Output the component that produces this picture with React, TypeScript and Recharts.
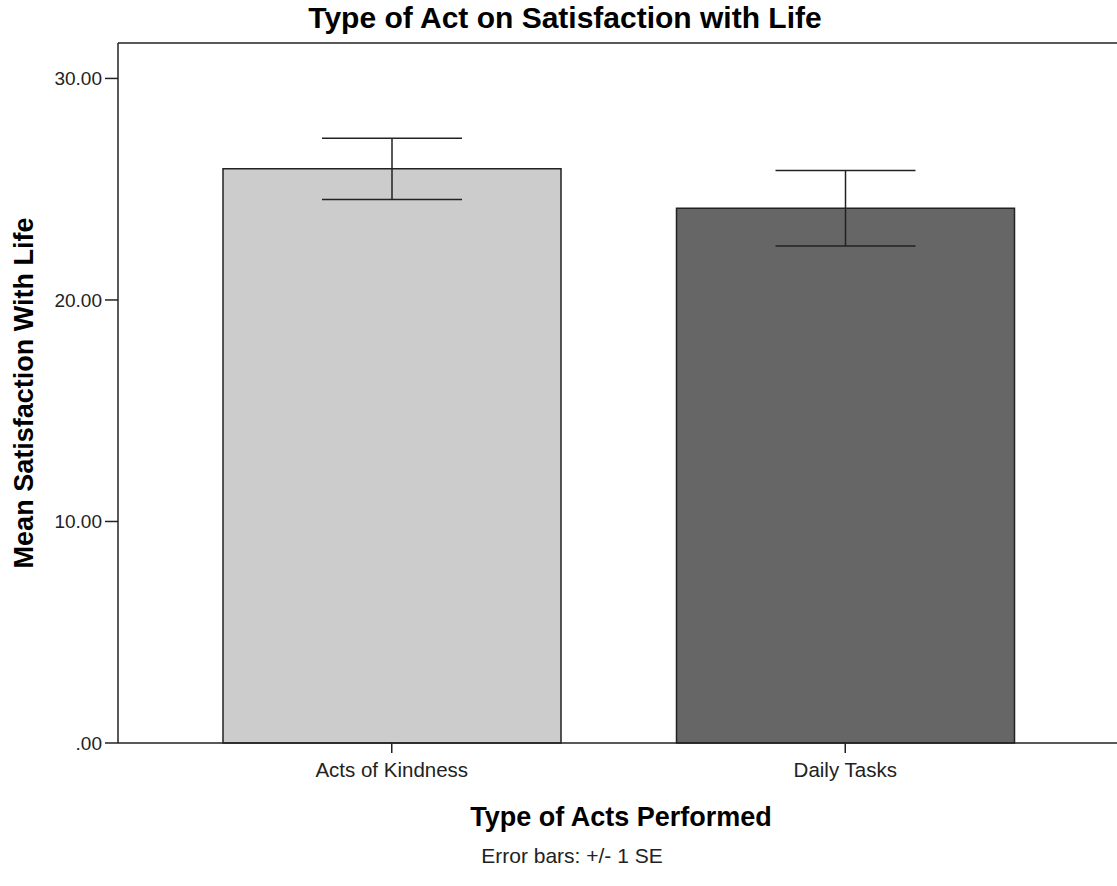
import React from "react";
import { BarChart, Bar, XAxis, YAxis, Cell, ErrorBar, ReferenceLine } from "recharts";

const categories = ["Acts of Kindness", "Daily Tasks"];
const means = [25.92, 24.14];
const stdErrors = [1.38, 1.7];
const barFills = ["#cccccc", "#666666"];
const yTicks = [0, 10, 20, 30];

const data = categories.map((name, i) => ({ name, mean: means[i], se: stdErrors[i] }));

const FONT = '"Liberation Sans", Arial, Helvetica, sans-serif';
const INK = "#222";

const fmtTick = (v: number) => (v === 0 ? ".00" : v.toFixed(2));

export default function App() {
  return (
    <div style={{ position: "fixed", left: 0, top: 0, width: "100vw", height: 886, overflow: "hidden", background: "#fff", fontFamily: FONT }}>
      <div
        style={{
          position: "absolute", left: 0, width: 1130, top: 3, textAlign: "center",
          fontSize: 30, lineHeight: "30px", fontWeight: "bold", color: "#000",
        }}
      >
        Type of Act on Satisfaction with Life
      </div>

      <BarChart width={1140} height={886} data={data} margin={{ top: 43, right: 0, bottom: 0, left: 0 }}>
        <YAxis
          width={118}
          domain={[0, 31.6]}
          ticks={yTicks}
          tickFormatter={fmtTick}
          tick={{ fill: "#222", fontSize: 19, fontFamily: FONT }}
          tickSize={13}
          tickMargin={3}
          axisLine={{ stroke: INK, strokeWidth: 1.5 }}
          tickLine={{ stroke: INK, strokeWidth: 1.5 }}
          label={{
            value: "Mean Satisfaction With Life",
            angle: -90,
            position: "insideLeft",
            offset: 23,
            style: { textAnchor: "middle", fontSize: 27, fontWeight: "bold", fill: "#000", fontFamily: FONT },
          }}
        />
        <XAxis
          dataKey="name"
          height={143}
          padding={{ left: 47, right: 68 }}
          tick={{ fill: "#222", fontSize: 20.5, fontFamily: FONT }}
          tickSize={10}
          tickMargin={9}
          axisLine={{ stroke: INK, strokeWidth: 1.5 }}
          tickLine={{ stroke: INK, strokeWidth: 1.5 }}
          label={{
            value: "Type of Acts Performed",
            position: "insideTop",
            offset: 64,
            dx: -8,
            style: { fontSize: 27, fontWeight: "bold", fill: "#000", fontFamily: FONT },
          }}
        />
        <ReferenceLine y={31.6} stroke={INK} strokeWidth={1.5} />
        <Bar dataKey="mean" barSize={338} stroke={INK} strokeWidth={1.5} isAnimationActive={false}>
          {data.map((_, i) => (
            <Cell key={`c-${i}`} fill={barFills[i]} />
          ))}
          <ErrorBar dataKey="se" width={70} stroke={INK} strokeWidth={1.5} />
        </Bar>
      </BarChart>

      <div
        style={{
          position: "absolute", left: 0, width: 1144, top: 845, textAlign: "center",
          fontSize: 21, lineHeight: "21px", color: "#222",
        }}
      >
        Error bars: +/- 1 SE
      </div>
    </div>
  );
}
